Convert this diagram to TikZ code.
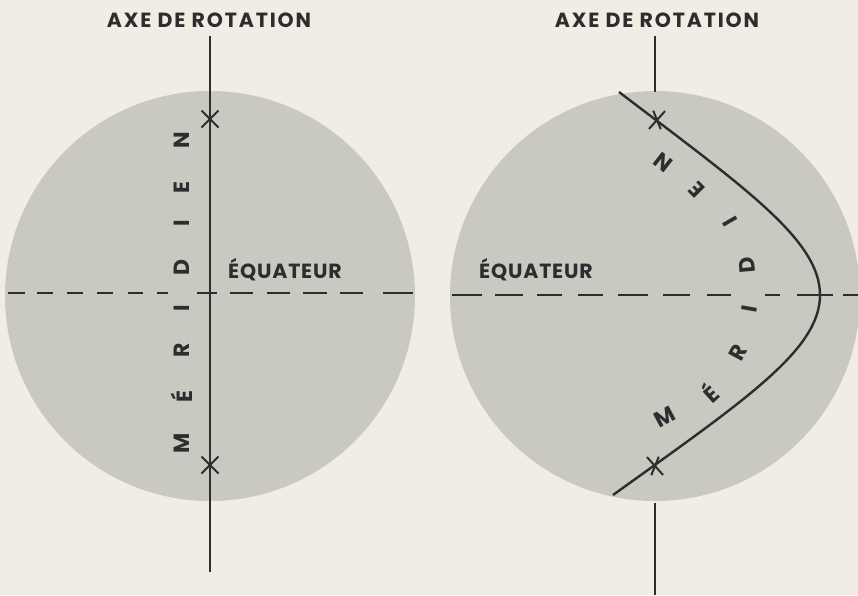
\documentclass[tikz,border=0pt]{standalone}
\usepackage{fontspec}
\setmainfont{Poppins}
\newfontfamily\titlefont[LetterSpace=9]{Poppins}
\newfontfamily\eqfont[LetterSpace=4]{Poppins}
\definecolor{paper}{RGB}{240,237,229}
\definecolor{globe}{RGB}{201,200,193}
\definecolor{ink}{RGB}{45,45,45}
\begin{document}
\begin{tikzpicture}[x=1pt,y=-1pt,
  title/.style={font=\titlefont\bfseries\fontsize{20.5}{20}\selectfont, text=ink, inner sep=0pt},
  eqtext/.style={font=\eqfont\bfseries\fontsize{20.5}{20}\selectfont, text=ink, inner sep=0pt},
  lettre/.style={font=\bfseries\fontsize{22}{22}\selectfont, text=ink, inner sep=0pt},
  axe/.style={draw=ink, line width=1.8pt},
  merid/.style={draw=ink, line width=2.4pt},
  tiret/.style={draw=ink, line width=2.2pt},
  croix/.style={draw=ink, line width=2pt}]
\useasboundingbox (0,0) rectangle (858,595);
\fill[paper] (0,0) rectangle (858,595);
\begin{scope}
\clip (0,0) rectangle (858,595);
\fill[globe] (210,296) circle (205);
\fill[globe] (655,296) circle (205);
\end{scope}

% ---- left diagram ----
\node[title] (t1) at (209,20) {AXE DE ROTATION};
\coordinate (a1top) at (210,36);
\coordinate (a1bot) at (210,572);
\draw[axe] (a1top) -- (a1bot);
\foreach \a/\b in {8/25,37/53,67/83,97/113,128/143,157/168,197/217,230/253,267/290,303/327,340/363,383/413}
  \draw[tiret] (\a,293) -- (\b,293);
\node[eqtext] (eq1) at (285,270) {ÉQUATEUR};
\foreach \y in {119,465}
  \draw[croix] (210-8.5,\y-8.5) -- (210+8.5,\y+8.5) (210-8.5,\y+8.5) -- (210+8.5,\y-8.5);
\foreach \c/\y in {M/443,É/397,R/350,I/308,D/267,I/223,E/188,N/140}
  \node[lettre, rotate=90] at (182,\y) {\c};

% ---- right diagram ----
\node[title] (t2) at (657,20) {AXE DE ROTATION};
\coordinate (a2top) at (655,36);
\coordinate (a2tc) at (655,92);
\coordinate (a2bc) at (655,503);
\coordinate (a2bot) at (655,595);
\draw[axe] (a2top) -- (a2tc);
\draw[axe] (a2bc) -- (a2bot);
\foreach \a/\b in {452/482,495/523,537/562,578/603,618/648,663/690,707/731,765/780,797/833,843/858}
  \draw[tiret] (\a,295) -- (\b,295);
\node[eqtext] (eq2) at (536,270) {ÉQUATEUR};
\coordinate (m1) at (619,92);
\coordinate (mv) at (820,295);
\coordinate (m2) at (613,495);
\draw[merid] (m1) .. controls (745,188) and (820,240) .. (mv)
             .. controls (820,350) and (745,400) .. (m2);
% y axis points down: page angle t is written as -t
\draw[croix] (657,120) ++(-48:12) -- ++(132:24);
\draw[croix] (657,120) ++(-112:10) -- ++(68:20);
\draw[croix] (655,466) ++(48:12) -- ++(228:24);
\draw[croix] (655,466) ++(-68:10) -- ++(112:20);
\foreach \c/\x/\y/\r in {M/665/417/28,É/710/393/42,R/738/353/62,I/749/309/80,D/747/265/95,I/730/222/120,E/697/190/135,N/663/162/142}
  \node[lettre, rotate=\r] at (\x,\y) {\c};
\end{tikzpicture}
\end{document}
